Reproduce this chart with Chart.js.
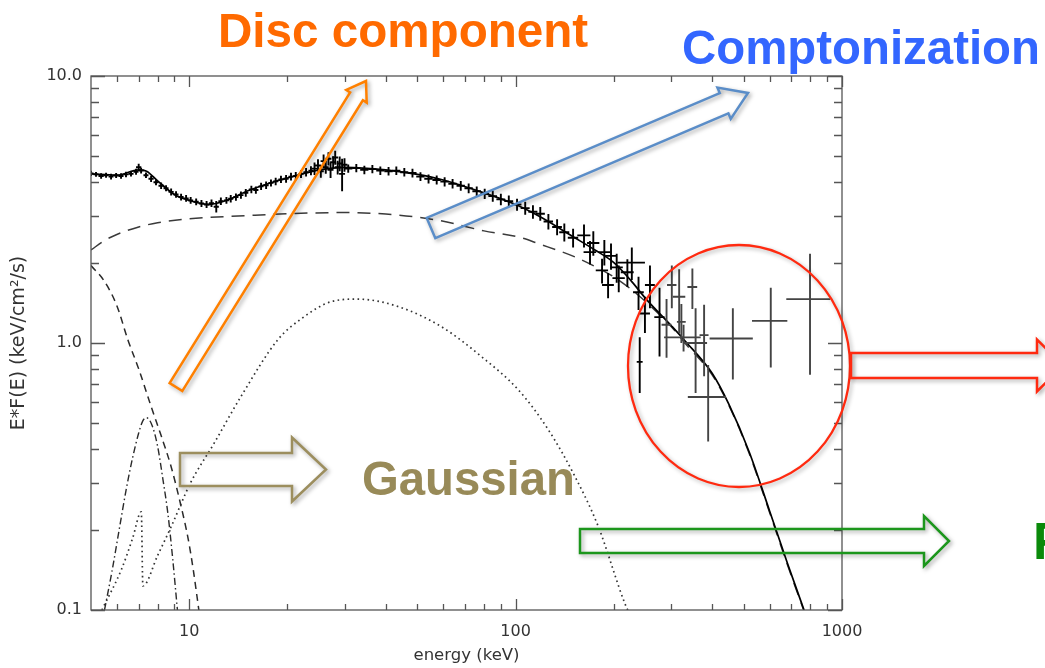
<!DOCTYPE html>
<html>
<head>
<meta charset="utf-8">
<script src="https://cdn.jsdelivr.net/npm/chart.js@4.4.0/dist/chart.umd.min.js"></script>
<style>
  html, body { margin: 0; padding: 0; background: #fff; }
  #wrap { width: 1045px; height: 668px; position: relative; }
</style>
</head>
<body>
<div id="wrap"><canvas id="spec"></canvas></div>
<script>
// observed spectrum: energy (keV), E*F(E), half bin width, flux error
const dataE = [5.0, 5.18, 5.37, 5.56, 5.76, 5.97, 6.18, 6.4, 6.63, 6.87, 7.0, 7.12, 7.37, 7.64, 7.91, 8.2, 8.49, 8.8, 9.11, 9.44,
  9.78, 10.1, 10.5, 10.9, 11.3, 11.7, 12.1, 12.5, 13.0, 13.4, 13.9, 14.4, 14.9, 15.5, 16.0, 16.6, 17.2, 17.8, 18.4, 19.1,
  19.8, 20.5, 21.2, 22.0, 22.8, 23.6,
  24.2, 24.8, 25.3, 25.8, 26.2, 26.7, 27.1, 27.6, 28.0, 28.5, 28.9, 29.4, 29.9,
  30.7, 32.5, 34.4, 36.4, 38.5, 40.8, 43.1, 45.6, 48.3, 51.1, 54.1, 57.3, 60.6, 64.1, 67.9, 71.8, 76.0, 80.4, 85.1, 90.1,
  95.3, 101, 107, 113, 119, 126, 134, 141, 150,
  162, 169, 173, 184, 187, 192, 196, 204, 207, 220, 227, 238, 240, 249, 258, 276, 290, 301, 317, 322, 327, 348, 356, 378,
  389, 463, 605, 798];
const dataF = [4.32, 4.28, 4.22, 4.25, 4.2, 4.24, 4.22, 4.28, 4.3, 4.38, 4.55, 4.42, 4.25, 4.12, 4.0, 3.88, 3.8, 3.68, 3.6, 3.52,
  3.48, 3.42, 3.38, 3.33, 3.3, 3.34, 3.24, 3.4, 3.42, 3.47, 3.52, 3.58, 3.65, 3.76, 3.74, 3.86, 3.9, 3.98, 4.03, 4.1,
  4.12, 4.2, 4.22, 4.3, 4.36, 4.42,
  4.5, 4.62, 4.4, 4.8, 4.55, 4.9, 4.45, 4.75, 4.95, 4.55, 4.7, 4.3, 4.65,
  4.5, 4.52, 4.45, 4.48, 4.42, 4.4, 4.42, 4.36, 4.33, 4.2, 4.12, 4.08, 4.02, 3.95, 3.88, 3.8, 3.7, 3.62, 3.55, 3.45,
  3.4, 3.3, 3.2, 3.1, 3.05, 2.85, 2.72, 2.6, 2.48,
  2.53, 2.19, 2.37, 1.87, 2.19, 1.65, 2.12, 1.92, 1.75, 1.84, 2.0, 1.55, 0.85, 1.29, 1.65, 1.25, 1.17, 1.65, 1.49, 1.2, 1.05, 1.62, 1.0, 1.07,
  0.628, 1.04, 1.21, 1.46];
const dataEErr = [0.09, 0.09, 0.1, 0.1, 0.1, 0.11, 0.11, 0.12, 0.12, 0.12, 0.13, 0.13, 0.13, 0.14, 0.14, 0.15, 0.15, 0.16, 0.16, 0.17,
  0.18, 0.18, 0.19, 0.2, 0.2, 0.21, 0.22, 0.22, 0.23, 0.24, 0.25, 0.26, 0.27, 0.28, 0.29, 0.3, 0.31, 0.32, 0.33, 0.34,
  0.36, 0.37, 0.38, 0.4, 0.41, 0.42,
  0.5, 0.52, 0.53, 0.54, 0.55, 0.56, 0.57, 0.58, 0.59, 0.6, 0.61, 0.62, 0.63,
  0.9, 0.95, 1.0, 1.05, 1.1, 1.2, 1.25, 1.3, 1.4, 1.5, 1.6, 1.7, 1.8, 1.9, 2.0, 2.1, 2.3, 2.4, 2.6, 2.8,
  3.0, 3.2, 3.4, 3.6, 3.9, 4.2, 4.6, 5.0, 5.5,
  7.5, 7.5, 7.5, 8, 8, 8, 8, 9, 9, 10, 22, 9, 5, 9, 9, 10, 10, 10, 14, 10, 42, 12, 30, 12,
  52, 70, 75, 123];
const dataFErr = [0.1, 0.09, 0.1, 0.09, 0.1, 0.09, 0.1, 0.1, 0.1, 0.11, 0.14, 0.11, 0.1, 0.11, 0.1, 0.11, 0.1, 0.11, 0.1, 0.1,
  0.1, 0.1, 0.1, 0.1, 0.1, 0.11, 0.16, 0.11, 0.1, 0.11, 0.11, 0.11, 0.12, 0.12, 0.12, 0.12, 0.13, 0.12, 0.13, 0.13,
  0.14, 0.14, 0.15, 0.15, 0.16, 0.17,
  0.24, 0.26, 0.24, 0.28, 0.25, 0.28, 0.3, 0.26, 0.3, 0.27, 0.3, 0.6, 0.27,
  0.16, 0.16, 0.16, 0.16, 0.16, 0.16, 0.16, 0.16, 0.16, 0.16, 0.16, 0.16, 0.16, 0.16, 0.16, 0.16, 0.16, 0.16, 0.17, 0.17,
  0.17, 0.17, 0.18, 0.18, 0.18, 0.19, 0.19, 0.2, 0.2,
  0.25, 0.22, 0.25, 0.2, 0.24, 0.18, 0.24, 0.24, 0.2, 0.22, 0.28, 0.22, 0.2, 0.2, 0.3, 0.36, 0.29, 0.3, 0.4, 0.2, 0.12, 0.28, 0.35, 0.32,
  0.2, 0.31, 0.4, 0.7];

// model components
const totalE = [5, 6, 7, 7.4, 8, 9, 10, 11.5, 13, 15, 18, 20, 25, 30, 40, 50, 60, 80, 100, 120, 150, 175, 200, 225, 250, 300, 330, 400, 450, 520, 600, 680, 765];
const totalF = [4.3, 4.25, 4.45, 4.4, 4.05, 3.6, 3.42, 3.3, 3.42, 3.7, 4.0, 4.15, 4.45, 4.55, 4.45, 4.28, 4.08, 3.65, 3.3, 2.95, 2.5, 2.23, 2.0, 1.72, 1.47, 1.16, 1.02, 0.77, 0.59, 0.39, 0.235, 0.15, 0.1];
const comptE = [5, 5.5, 6, 7, 8, 10, 15, 20, 30, 40, 58, 80, 104, 117, 152, 180, 207, 250, 300, 330, 400, 450, 520, 600, 680, 765];
const comptF = [2.23, 2.42, 2.55, 2.72, 2.82, 2.92, 3.0, 3.05, 3.08, 3.04, 2.88, 2.63, 2.48, 2.36, 2.1, 1.9, 1.72, 1.43, 1.15, 1.0, 0.76, 0.585, 0.385, 0.232, 0.148, 0.099];
const discE = [5, 5.5, 6, 6.5, 7, 7.65, 8.2, 8.8, 9.4, 9.93, 10.3, 10.7];
const discF = [1.95, 1.7, 1.38, 1.02, 0.8, 0.576, 0.45, 0.344, 0.25, 0.184, 0.14, 0.1];
const gaussE = [5.5, 5.8, 6.1, 6.4, 6.7, 7.0, 7.2, 7.4, 7.7, 8.0, 8.3, 8.6, 8.9, 9.2];
const gaussF = [0.1, 0.14, 0.2, 0.28, 0.37, 0.46, 0.51, 0.525, 0.49, 0.41, 0.31, 0.23, 0.155, 0.1];
const reflE = [5.4, 6.2, 6.7, 7.13, 7.21, 8.0, 8.8, 10.1, 11.9, 14.4, 18.7, 22, 27.3, 32.9, 43.6, 59.3, 78.6, 102, 126, 152, 179, 216, 224];
const reflF = [0.1, 0.142, 0.185, 0.233, 0.123, 0.16, 0.205, 0.3, 0.42, 0.63, 1.03, 1.23, 1.43, 1.46, 1.37, 1.15, 0.889, 0.667, 0.473, 0.316, 0.206, 0.106, 0.096];

// axis ticks
const xMajor = [10, 100, 1000];
const xMinor = [6, 7, 8, 9, 20, 30, 40, 50, 60, 70, 80, 90, 200, 300, 400, 500, 600, 700, 800, 900];
const yMajor = [0.1, 1, 10];
const yMinor = [0.2, 0.3, 0.4, 0.5, 0.6, 0.7, 0.8, 0.9, 2, 3, 4, 5, 6, 7, 8, 9];

const pts = (xs, ys) => xs.map((v, i) => ({ x: v, y: ys[i] }));

function model(label, xs, ys, dash, color, width) {
    return {
        label: label,
        data: pts(xs, ys),
        showLine: true,
        borderColor: color,
        borderWidth: width,
        borderDash: dash,
        pointRadius: 0,
        cubicInterpolationMode: 'monotone',
        fill: false
    };
}

function hollowArrow(ctx, tx, ty, hx, hy, w, hw, hl, color) {
    const len = Math.hypot(hx - tx, hy - ty);
    const dx = (hx - tx) / len, dy = (hy - ty) / len;
    const nx = -dy, ny = dx;
    const bx = hx - dx * hl, by = hy - dy * hl;
    ctx.save();
    ctx.shadowColor = 'rgba(0,0,0,0.35)';
    ctx.shadowBlur = 4;
    ctx.shadowOffsetX = 2;
    ctx.shadowOffsetY = 2;
    ctx.strokeStyle = color;
    ctx.lineWidth = 2.5;
    ctx.lineJoin = 'miter';
    ctx.beginPath();
    ctx.moveTo(tx + nx * w, ty + ny * w);
    ctx.lineTo(bx + nx * w, by + ny * w);
    ctx.lineTo(bx + nx * hw, by + ny * hw);
    ctx.lineTo(hx, hy);
    ctx.lineTo(bx - nx * hw, by - ny * hw);
    ctx.lineTo(bx - nx * w, by - ny * w);
    ctx.lineTo(tx - nx * w, ty - ny * w);
    ctx.closePath();
    ctx.stroke();
    ctx.restore();
}

function label(ctx, text, x, base, width, color) {
    ctx.save();
    ctx.font = 'bold 47px "Liberation Sans", Arial, sans-serif';
    const m = ctx.measureText(text).width;
    const fs = 47 * width / m;
    ctx.font = 'bold ' + fs.toFixed(1) + 'px "Liberation Sans", Arial, sans-serif';
    ctx.fillStyle = color;
    ctx.textBaseline = 'alphabetic';
    ctx.fillText(text, x, base);
    ctx.restore();
}

const decor = {
    id: 'decor',
    afterDatasetsDraw(chart) {
        const { ctx, chartArea: a, scales: { x, y } } = chart;
        // error-bar crosses
        ctx.save();
        ctx.beginPath();
        ctx.rect(a.left, a.top, a.right - a.left, a.bottom - a.top);
        ctx.clip();
        ctx.lineWidth = 1.9;
        dataE.forEach((e, i) => {
            const px = x.getPixelForValue(e);
            const py = y.getPixelForValue(dataF[i]);
            const x0 = x.getPixelForValue(e - dataEErr[i]);
            const x1 = x.getPixelForValue(e + dataEErr[i]);
            const y0 = y.getPixelForValue(dataF[i] - dataFErr[i]);
            const y1 = y.getPixelForValue(dataF[i] + dataFErr[i]);
            ctx.strokeStyle = e > 280 ? '#444' : '#000';
            ctx.beginPath();
            ctx.moveTo(x0, py); ctx.lineTo(x1, py);
            ctx.moveTo(px, y0); ctx.lineTo(px, y1);
            ctx.stroke();
        });
        ctx.restore();

        // frame with inward ticks on all four sides
        ctx.save();
        ctx.strokeStyle = '#555';
        ctx.lineWidth = 1.3;
        ctx.strokeRect(a.left, a.top, a.right - a.left, a.bottom - a.top);
        ctx.beginPath();
        xMinor.concat(xMajor).forEach(v => {
            const px = Math.round(x.getPixelForValue(v)) + 0.5;
            const len = xMajor.includes(v) ? 11 : 6;
            ctx.moveTo(px, a.bottom); ctx.lineTo(px, a.bottom - len);
            ctx.moveTo(px, a.top); ctx.lineTo(px, a.top + len);
        });
        yMinor.concat(yMajor).forEach(v => {
            const py = Math.round(y.getPixelForValue(v)) + 0.5;
            const len = yMajor.includes(v) ? 14 : 8;
            ctx.moveTo(a.left, py); ctx.lineTo(a.left + len, py);
            ctx.moveTo(a.right, py); ctx.lineTo(a.right - len, py);
        });
        ctx.stroke();
        ctx.restore();
    },
    afterDraw(chart) {
        const ctx = chart.ctx;
        // annotation overlay
        label(ctx, 'Disc component', 218, 47, 370, '#FF6A00');
        label(ctx, 'Comptonization', 682, 64, 358, '#3366FF');
        label(ctx, 'Gaussian', 362, 495, 213, '#988A58');
        label(ctx, 'Reflection', 1033, 559, 250, '#0A8A0A');

        hollowArrow(ctx, 176, 387, 366, 81, 7.5, 12, 18, '#FF8000');
        hollowArrow(ctx, 431, 228, 748, 93, 11, 17, 26, '#5A8DC8');
        hollowArrow(ctx, 180, 469.5, 326, 469.5, 16.5, 32, 34, '#9C8E5E');
        hollowArrow(ctx, 580, 541, 949, 541, 12, 25, 25, '#1C961C');

        ctx.save();
        ctx.shadowColor = 'rgba(0,0,0,0.3)';
        ctx.shadowBlur = 4;
        ctx.shadowOffsetX = 2;
        ctx.shadowOffsetY = 2;
        ctx.strokeStyle = '#FF2A10';
        ctx.lineWidth = 2.3;
        ctx.beginPath();
        ctx.ellipse(739, 366, 111, 121, 0, 0, Math.PI * 2);
        ctx.stroke();
        ctx.restore();
        hollowArrow(ctx, 851, 365.5, 1063, 365.5, 12.5, 26, 26, '#FF2A10');
    }
};

const tickFont = { family: '"DejaVu Sans", sans-serif', size: 16 };

new Chart(document.getElementById('spec'), {
    type: 'scatter',
    data: {
        datasets: [
            model('total', totalE, totalF, [], '#000', 1.7),
            model('comptonization', comptE, comptF, [13, 8], '#3a3a3a', 1.5),
            model('disc', discE, discF, [7, 5], '#2a2a2a', 1.5),
            model('gaussian', gaussE, gaussF, [7, 3, 1.5, 3], '#2a2a2a', 1.4),
            model('reflection', reflE, reflF, [1.6, 3.4], '#333', 1.7)
        ]
    },
    options: {
        responsive: true,
        maintainAspectRatio: false,
        animation: false,
        layout: { padding: { left: 0, top: 76, right: 203, bottom: 0 } },
        plugins: {
            legend: { display: false },
            tooltip: { enabled: false }
        },
        scales: {
            x: {
                type: 'logarithmic',
                min: 5,
                max: 1000,
                grid: { display: false, drawTicks: false },
                border: { display: false },
                afterFit: s => { s.height = 58; },
                afterBuildTicks: s => { s.ticks = xMajor.map(v => ({ value: v })); },
                ticks: {
                    autoSkip: false,
                    maxRotation: 0,
                    padding: 12,
                    color: '#333',
                    font: tickFont,
                    callback: v => String(v)
                },
                title: {
                    display: true,
                    text: 'energy (keV)',
                    color: '#333',
                    font: { family: '"DejaVu Sans", sans-serif', size: 16.5 },
                    padding: { top: 0, bottom: 2 }
                }
            },
            y: {
                type: 'logarithmic',
                min: 0.1,
                max: 10,
                grid: { display: false, drawTicks: false },
                border: { display: false },
                afterFit: s => { s.width = 91; },
                afterBuildTicks: s => { s.ticks = yMajor.map(v => ({ value: v })); },
                ticks: {
                    autoSkip: false,
                    padding: 9,
                    color: '#333',
                    font: tickFont,
                    callback: v => Number(v).toFixed(1)
                },
                title: {
                    display: true,
                    text: 'E*F(E) (keV/cm²/s)',
                    color: '#333',
                    font: { family: '"DejaVu Sans", sans-serif', size: 19 },
                    padding: { top: 8, bottom: 0 }
                }
            }
        }
    },
    plugins: [decor]
});
</script>
</body>
</html>
